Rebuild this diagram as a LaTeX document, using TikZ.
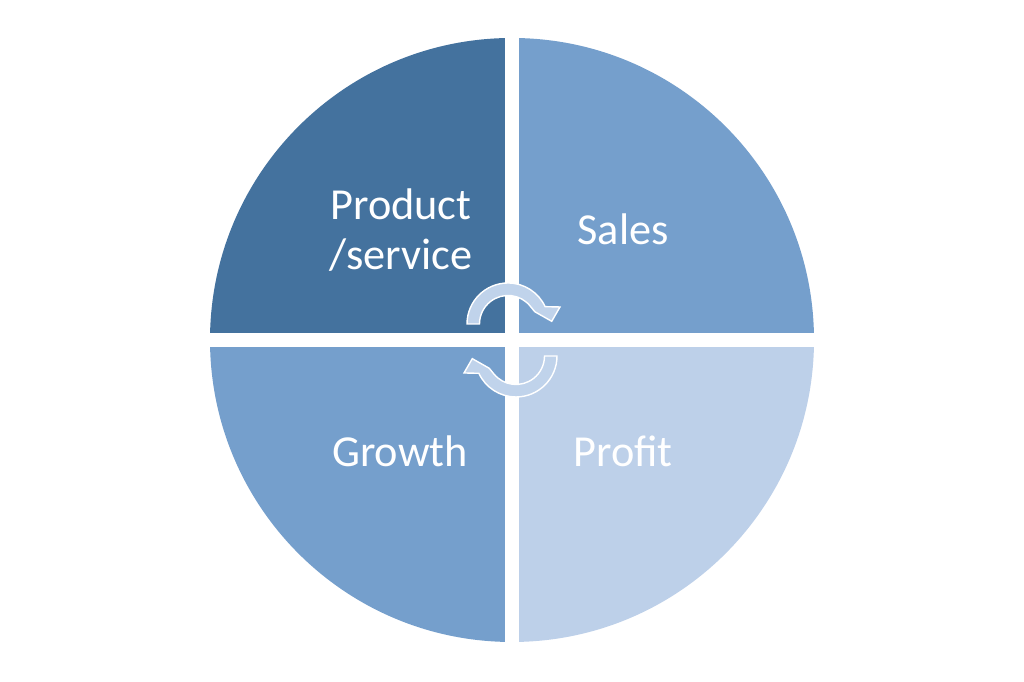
\documentclass[tikz,border=0pt]{standalone}
\usepackage{fontspec}
\setmainfont{Carlito}
\definecolor{quaddark}{RGB}{68,114,158}
\definecolor{quadmid}{RGB}{117,159,204}
\definecolor{quadlight}{RGB}{189,208,233}
\definecolor{arrowfill}{RGB}{192,211,235}
\tikzset{
  quadtext/.style={text=white, font=\fontsize{12.6}{14.3}\selectfont, align=center},
  cyclearrow/.style={fill=arrowfill, draw=white, line width=0.4pt, line join=miter}
}
\begin{document}
\begin{tikzpicture}[x=0.1mm, y=0.1mm]
    \useasboundingbox (0,0) rectangle (1024,682);
    \coordinate (mid) at (512,342);

    % Four quarters of the disk
    \foreach \start/\col in {0/quadmid, 90/quaddark, 180/quadmid, 270/quadlight} {
        \fill[\col] (mid) -- ++(\start:302) arc[start angle=\start, end angle=\start+90, radius=302] -- cycle;
    }
    % White cross between the quarters
    \draw[white, line width=1.4mm] (512,30) -- (512,654);
    \draw[white, line width=1.4mm] (200,342) -- (824,342);

    % Labels
    \node[quadtext] (product) at (401,452) {Product\\/service};
    \node[quadtext] (sales) at (623,453) {Sales};
    \node[quadtext] (growth) at (400,231) {Growth};
    \node[quadtext] (profit) at (623,231) {Profit};

    % Circular arrows in the middle
    \foreach \rot in {0,180} {
    \begin{scope}[shift={(mid)}, rotate=\rot, shift={(-4,16)}]
        \filldraw[cyclearrow] (180:41) arc[start angle=180, end angle=25, radius=41]
            -- (18.1:54.7) -- (3.5:43.8) -- (24.5:29.5)
            -- (38:28.5) arc[start angle=38, end angle=180, radius=28.5] -- cycle;
    \end{scope}
    }

\end{tikzpicture}
\end{document}
